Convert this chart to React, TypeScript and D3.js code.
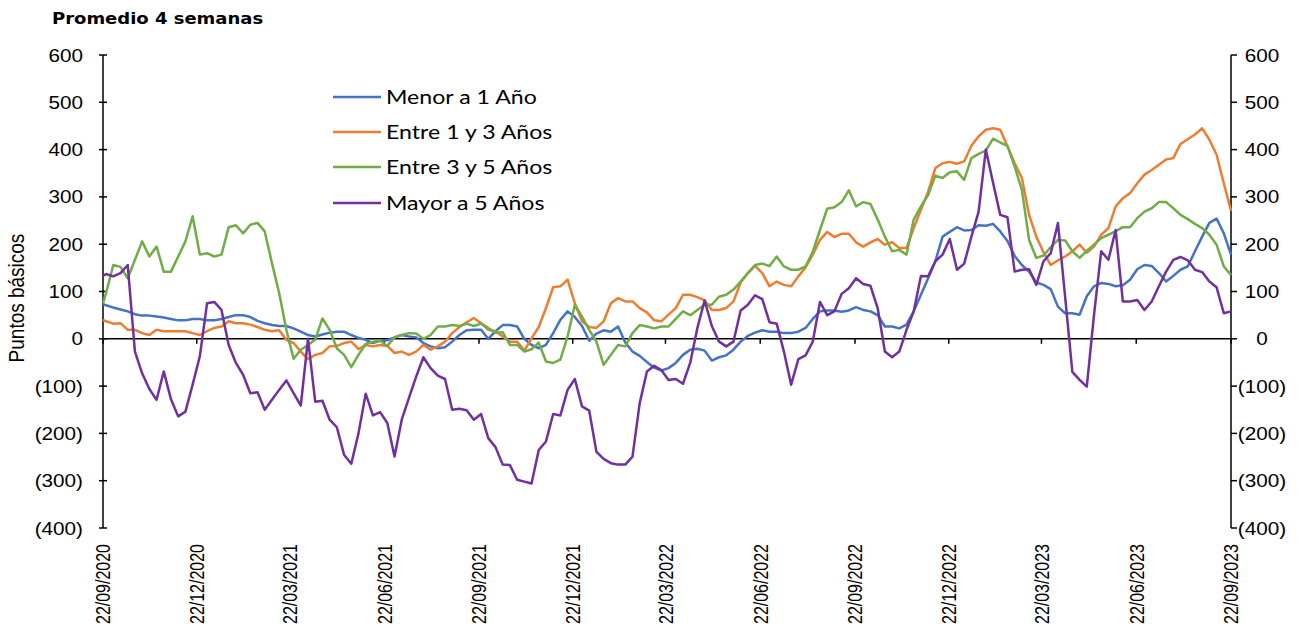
import React from "react";
import * as d3 from "d3";

// ---------- DATA ----------
const TITLE = "Promedio 4 semanas";
const Y_TITLE = "Puntos básicos";
const SERIES_NAMES = ["Menor a 1 Año", "Entre 1 y 3 Años", "Entre 3 y 5 Años", "Mayor a 5 Años"];
const SERIES_COLORS = ["#4472C4", "#ED7D31", "#70AD47", "#7030A0"];

// first observation on 22/09/2020, then weekly (Fridays) from 25/09/2020 to 22/09/2023
const FIRST_DATE = "2020-09-22";
const FIRST_FRIDAY = "2020-09-25";

const X_TICK_LABELS = [
  "22/09/2020", "22/12/2020", "22/03/2021", "22/06/2021", "22/09/2021", "22/12/2021", "22/03/2022",
  "22/06/2022", "22/09/2022", "22/12/2022", "22/03/2023", "22/06/2023", "22/09/2023",
];
const Y_TICKS = [600, 500, 400, 300, 200, 100, 0, -100, -200, -300, -400];

const menor1 = [
  73, 71, 66, 62, 58, 52, 49, 49, 47, 45, 42, 39, 39, 42, 42, 39, 39, 42, 46, 50,
  50, 46, 38, 33, 29, 27, 27, 22, 15, 8, 5, 9, 13, 15, 15, 8, 2, -2, -9, -4,
  -3, 3, 8, 5, 3, -9, -16, -20, -18, -6, 8, 18, 19, 19, 0, 16, 29, 29, 26, 0,
  -13, -20, -13, 12, 40, 58, 46, 27, -4, 11, 18, 15, 26, -8, -27, -36, -49, -61, -67, -62,
  -51, -34, -23, -21, -25, -46, -39, -35, -23, -6, 6, 13, 18, 15, 15, 12, 12, 15, 23, 42,
  58, 60, 60, 57, 60, 67, 61, 58, 50, 26, 26, 22, 30, 58, 93, 128, 164, 216, 226, 236,
  229, 230, 240, 239, 243, 227, 207, 175, 156, 142, 119, 114, 105, 68, 54, 54, 51, 90, 111, 118,
  116, 111, 113, 125, 147, 156, 154, 139, 121, 133, 146, 153, 185, 216, 245, 254, 223, 178,
];
const entre1y3 = [
  40, 37, 32, 33, 19, 19, 12, 8, 19, 16, 16, 16, 16, 12, 8, 16, 23, 26, 37, 33,
  33, 30, 25, 19, 16, 18, -2, -9, -27, -43, -34, -30, -16, -15, -9, -6, -22, -13, -16, -13,
  -15, -30, -27, -34, -27, -13, -23, -16, -6, 12, 25, 35, 44, 33, 19, 16, 5, -6, -6, -25,
  1, 25, 65, 109, 111, 125, 75, 37, 25, 23, 37, 75, 86, 79, 79, 65, 56, 39, 37, 51,
  65, 93, 93, 88, 81, 61, 61, 65, 79, 119, 139, 154, 139, 111, 121, 114, 111, 132, 151, 178,
  209, 226, 215, 222, 222, 204, 195, 204, 211, 199, 204, 192, 192, 234, 273, 311, 361, 371, 374, 370,
  375, 408, 428, 442, 445, 442, 407, 371, 340, 262, 216, 183, 156, 166, 174, 185, 199, 182, 195, 220,
  234, 280, 297, 308, 329, 347, 357, 368, 379, 382, 412, 422, 432, 445, 421, 389, 329, 271,
];
const entre3y5 = [
  75, 97, 156, 152, 128, 167, 206, 174, 195, 142, 142, 174, 206, 259, 178, 181, 174, 178, 236, 240,
  223, 241, 245, 227, 160, 97, 19, -42, -23, -13, -2, 43, 19, -20, -34, -60, -34, -11, -6, -4,
  -15, 3, 8, 12, 11, 0, 8, 26, 26, 29, 27, 32, 27, 32, 23, 13, 14, -13, -13, -27,
  -22, -8, -48, -51, -44, 5, 72, 47, 19, -6, -55, -34, -13, -16, 12, 29, 26, 22, 26, 26,
  42, 58, 50, 61, 72, 72, 89, 93, 104, 121, 139, 156, 159, 154, 174, 153, 146, 146, 153, 184,
  230, 275, 278, 289, 314, 280, 289, 285, 252, 216, 185, 188, 178, 252, 280, 304, 345, 340, 352, 354,
  336, 382, 391, 398, 423, 415, 408, 364, 315, 209, 171, 176, 194, 209, 208, 185, 171, 186, 199, 213,
  220, 227, 236, 236, 255, 269, 276, 289, 289, 276, 262, 253, 243, 234, 220, 199, 153, 135,
];
const mayor5 = [
  133, 137, 132, 139, 156, -27, -73, -106, -129, -69, -128, -164, -154, -97, -37, 75, 78, 61, -13, -51,
  -76, -115, -113, -150, -129, -108, -88, -115, -141, 0, -133, -131, -171, -187, -245, -264, -200, -116, -162, -155,
  -178, -249, -171, -125, -80, -39, -62, -78, -85, -150, -148, -151, -171, -159, -210, -229, -266, -267, -298, -302,
  -306, -235, -217, -159, -162, -108, -85, -143, -152, -239, -254, -263, -266, -266, -249, -136, -69, -57, -66, -87,
  -85, -95, -51, 23, 81, 27, -6, -16, -6, 60, 72, 92, 84, 35, 32, -27, -97, -43, -35, -6,
  78, 50, 58, 95, 107, 128, 116, 112, 65, -27, -39, -27, 19, 58, 133, 132, 164, 178, 211, 146,
  159, 216, 269, 400, 330, 262, 257, 142, 146, 147, 114, 164, 181, 245, 88, -70, -87, -101, 50, 185,
  167, 230, 79, 79, 82, 61, 79, 111, 142, 167, 173, 166, 146, 141, 121, 109, 54, 58,
];
const SERIES = [menor1, entre1y3, entre3y5, mayor5];

// ---------- LAYOUT ----------
const W = 1305;
const H = 630;
const PLOT = { left: 103, right: 1231, top: 55, bottom: 528 };
const SX = 1.2; // horizontal stretch of the original export's text

const parseISO = d3.timeParse("%Y-%m-%d");
const parseDMY = d3.timeParse("%d/%m/%Y");

export default function App() {
  const start = parseISO(FIRST_DATE) as Date;
  const fri = parseISO(FIRST_FRIDAY) as Date;
  const n = menor1.length;
  const dates: Date[] = [start];
  for (let k = 0; k < n - 1; k++) dates.push(d3.timeDay.offset(fri, 7 * k));

  const tickDates = X_TICK_LABELS.map((s) => parseDMY(s) as Date);

  const x = d3.scaleTime().domain([tickDates[0], tickDates[tickDates.length - 1]]).range([PLOT.left, PLOT.right]);
  const y = d3.scaleLinear().domain([-400, 600]).range([PLOT.bottom, PLOT.top]);

  const line = d3
    .line<number>()
    .x((_, i) => x(dates[i]))
    .y((v) => y(v));

  const fmt = (v: number) => (v < 0 ? `(${Math.abs(v)})` : `${v}`);
  const tickFont = "'Liberation Sans', Arial, sans-serif";

  const legendX1 = 333;
  const legendX2 = 381;
  const legendRows = [97, 132, 167, 203];

  return (
    <svg
      width={W}
      height={H}
      viewBox={`0 0 ${W} ${H}`}
      style={{ position: "absolute", left: 0, top: 0, background: "#fff" }}
    >
      <rect x={0} y={0} width={W} height={H} fill="#fff" />
      {/* Title */}
      <text
        transform={`translate(52,24) scale(${SX},1)`}
        fontFamily="'DejaVu Sans', Verdana, sans-serif"
        fontWeight="bold"
        fontSize={15}
        fill="#000"
      >
        {TITLE}
      </text>

      {/* Y axis title */}
      <text
        transform={`translate(24,298) scale(${SX},1) rotate(-90)`}
        textAnchor="middle"
        fontFamily={tickFont}
        fontSize={19}
        fill="#000"
      >
        {Y_TITLE}
      </text>

      {/* Left axis */}
      <line x1={PLOT.left} x2={PLOT.left} y1={PLOT.top} y2={PLOT.bottom} stroke="#000" strokeWidth={1.5} />
      {Y_TICKS.map((t) => (
        <g key={`l${t}`}>
          <line x1={PLOT.left - 4} x2={PLOT.left + 4} y1={y(t)} y2={y(t)} stroke="#000" strokeWidth={1.5} />
          <text
            transform={`translate(83,${y(t) + 6.5}) scale(1.15,1)`}
            textAnchor="end"
            fontFamily={tickFont}
            fontSize={18}
            fill="#000"
          >
            {fmt(t)}
          </text>
        </g>
      ))}

      {/* Right axis */}
      <line x1={PLOT.right} x2={PLOT.right} y1={PLOT.top} y2={PLOT.bottom} stroke="#000" strokeWidth={1.5} />
      {Y_TICKS.map((t) => (
        <g key={`r${t}`}>
          <line x1={PLOT.right} x2={PLOT.right + 6} y1={y(t)} y2={y(t)} stroke="#000" strokeWidth={1.5} />
          <text
            transform={`translate(1262,${y(t) + 6.5}) scale(1.15,1)`}
            textAnchor="middle"
            fontFamily={tickFont}
            fontSize={18}
            fill="#000"
          >
            {fmt(t)}
          </text>
        </g>
      ))}

      {/* Zero line with date ticks */}
      <line x1={PLOT.left} x2={PLOT.right} y1={y(0)} y2={y(0)} stroke="#000" strokeWidth={1.6} />
      {tickDates.map((d, i) => (
        <line key={`xt${i}`} x1={x(d)} x2={x(d)} y1={y(0)} y2={y(0) + 5} stroke="#000" strokeWidth={1.5} />
      ))}

      {/* X labels */}
      {tickDates.map((d, i) => (
        <text
          key={`xl${i}`}
          transform={`translate(${x(d)},544) scale(1.27,1) rotate(-90)`}
          textAnchor="end"
          dy="0.36em"
          fontFamily={tickFont}
          fontSize={16}
          fill="#000"
        >
          {X_TICK_LABELS[i]}
        </text>
      ))}

      {/* Series */}
      {SERIES.map((s, k) => (
        <path
          key={`s${k}`}
          d={line(s) as string}
          fill="none"
          stroke={SERIES_COLORS[k]}
          strokeWidth={2.5}
          strokeLinejoin="round"
        />
      ))}

      {/* Legend */}
      {SERIES_NAMES.map((name, k) => (
        <g key={`lg${k}`}>
          <line
            x1={legendX1}
            x2={legendX2}
            y1={legendRows[k]}
            y2={legendRows[k]}
            stroke={SERIES_COLORS[k]}
            strokeWidth={2.5}
          />
          <text
            transform={`translate(386,${legendRows[k] + 6.5}) scale(1.25,1)`}
            fontFamily="Lato, 'Open Sans', sans-serif"
            fontSize={18.5}
            fill="#000"
          >
            {name}
          </text>
        </g>
      ))}
    </svg>
  );
}
